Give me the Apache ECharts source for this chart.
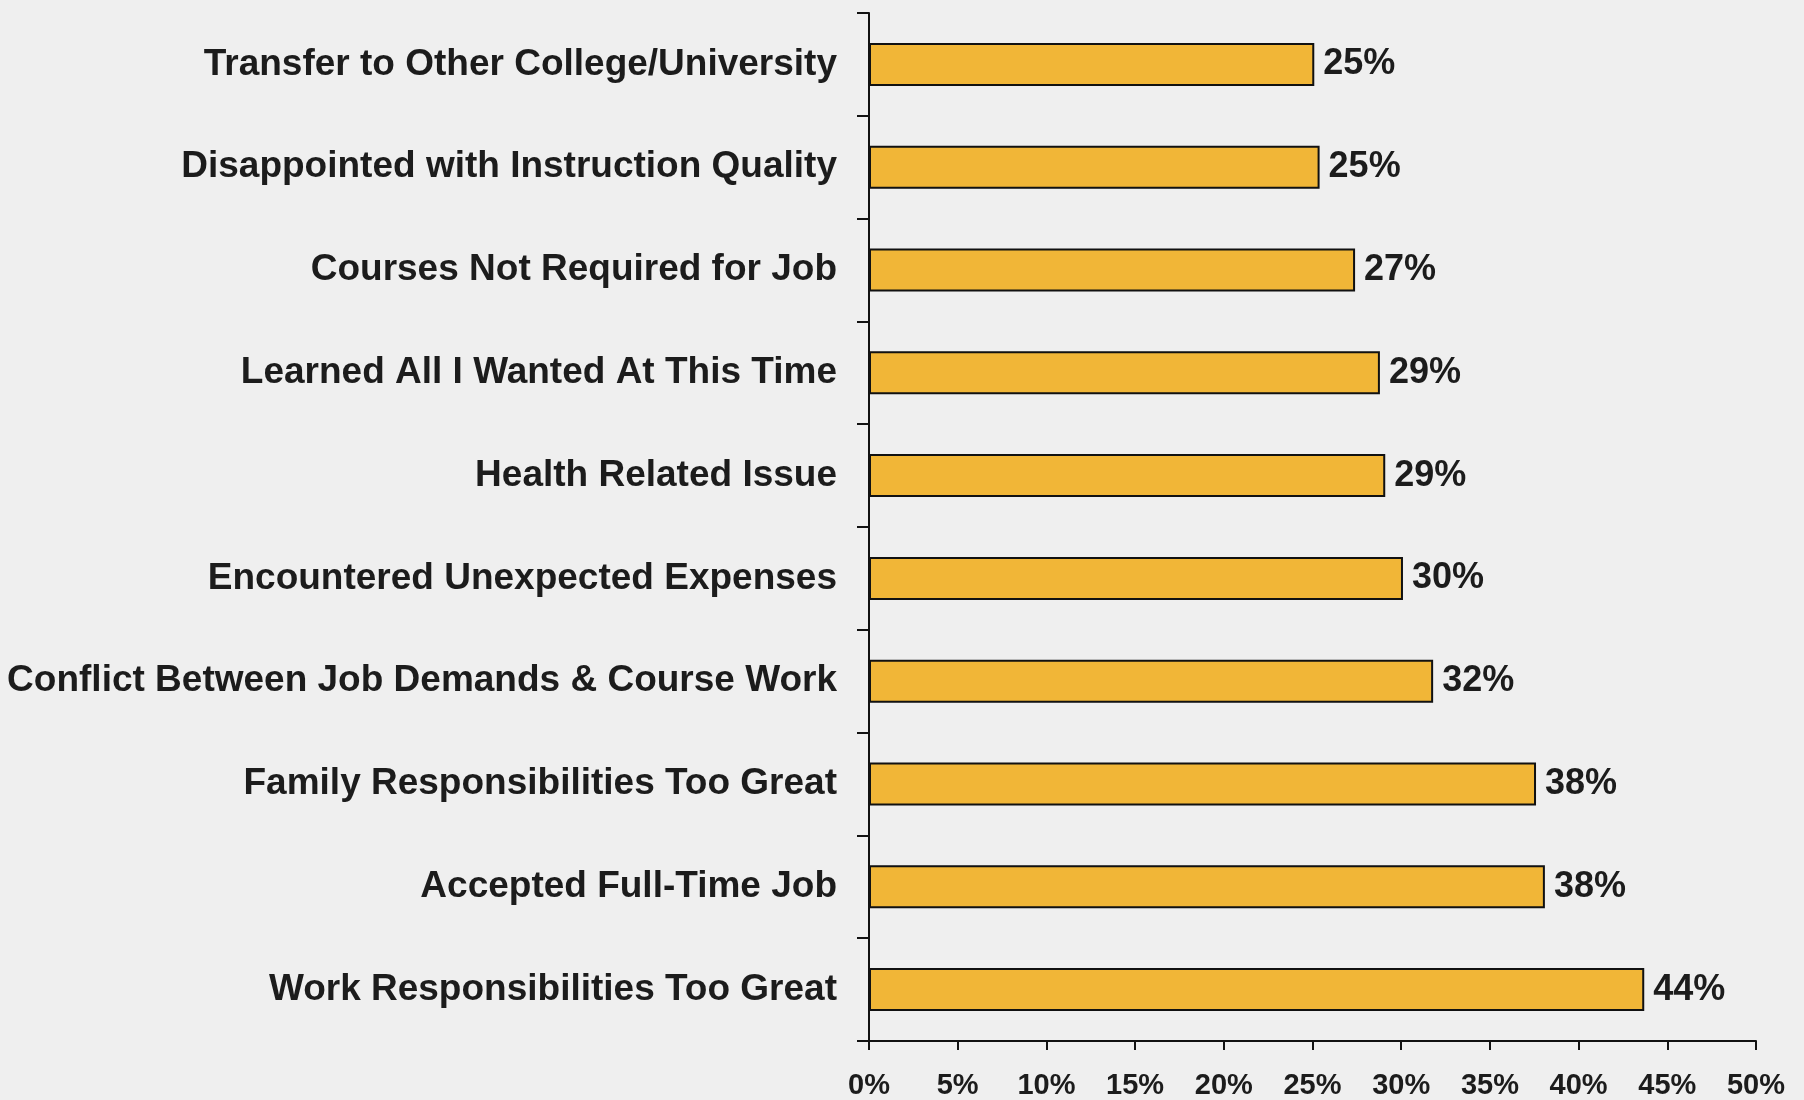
<!DOCTYPE html>
<html><head><meta charset="utf-8">
<script src="https://cdn.jsdelivr.net/npm/echarts@6/dist/echarts.min.js"></script>
<style>html,body{margin:0;padding:0;background:#efefef;}#c{width:1804px;height:1100px;}</style>
</head><body><div id="c"></div>
<script>
const categories = [
  "Transfer to Other College/University",
  "Disappointed with Instruction Quality",
  "Courses Not Required for Job",
  "Learned All I Wanted At This Time",
  "Health Related Issue",
  "Encountered Unexpected Expenses",
  "Conflict Between Job Demands & Course Work",
  "Family Responsibilities Too Great",
  "Accepted Full-Time Job",
  "Work Responsibilities Too Great"
];
const values = [25.1, 25.4, 27.4, 28.8, 29.1, 30.1, 31.8, 37.6, 38.1, 43.7];
const xTicks = [0, 5, 10, 15, 20, 25, 30, 35, 40, 45, 50];

const chart = echarts.init(document.getElementById('c'), null, {renderer: 'canvas'});
const font = '"Liberation Sans", Arial, Helvetica, sans-serif';
chart.setOption({
  backgroundColor: '#efefef',
  animation: false,
  grid: {left: 869, right: 48, top: 13, bottom: 58, containLabel: false},
  xAxis: {
    type: 'value', min: xTicks[0], max: xTicks[xTicks.length - 1], interval: 5,
    axisLine: {show: true, lineStyle: {color: '#111', width: 2}},
    axisTick: {show: true, inside: false, length: 9, lineStyle: {color: '#111', width: 2}},
    splitLine: {show: false},
    axisLabel: {formatter: v => v + '%', fontFamily: font, fontWeight: 'bold', fontSize: 29, color: '#1c1c1c', margin: 30}
  },
  yAxis: {
    type: 'category', data: categories, inverse: true,
    axisLine: {show: true, lineStyle: {color: '#111', width: 2}},
    axisTick: {show: true, length: 12, lineStyle: {color: '#111', width: 2}},
    axisLabel: {fontFamily: font, fontWeight: 'bold', fontSize: 37, color: '#1c1c1c', margin: 32, padding: [11, 0, 0, 0]}
  },
  series: [{
    type: 'bar', data: values, barWidth: 43,
    itemStyle: {color: '#f1b637', borderColor: '#111', borderWidth: 2},
    label: {show: true, position: 'right', distance: 9, formatter: p => Math.round(p.value) + '%',
      fontFamily: font, fontWeight: 'bold', fontSize: 36, color: '#1c1c1c', padding: [12, 0, 0, 0]}
  }]
});
</script></body></html>
